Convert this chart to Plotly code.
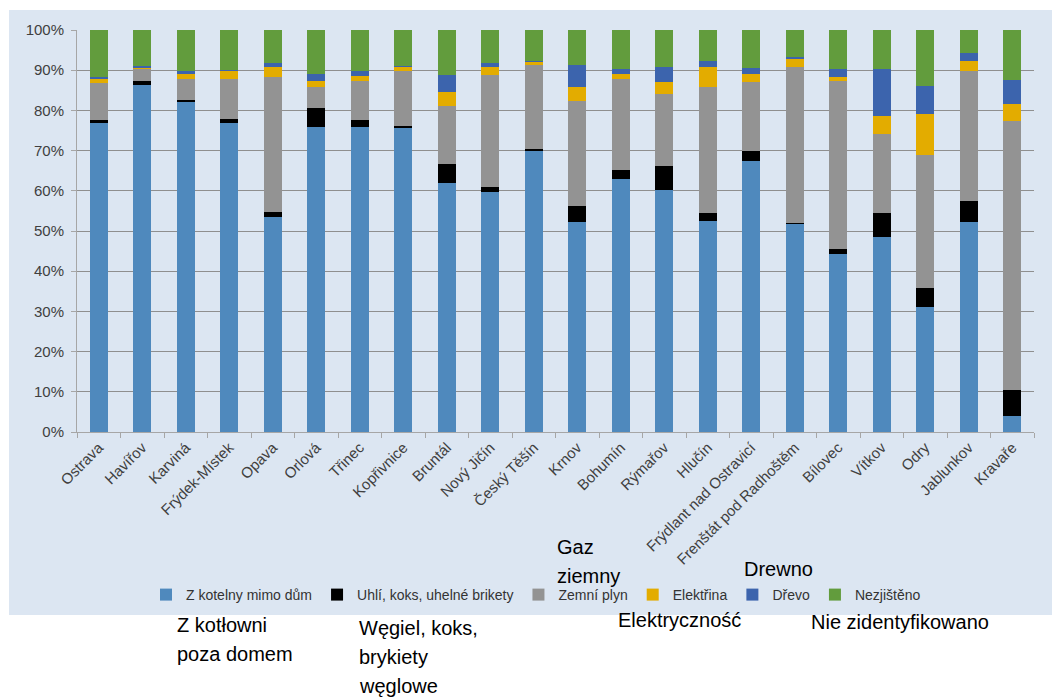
import plotly.graph_objects as go

categories = ["Ostrava", "Havířov", "Karviná", "Frýdek-Místek", "Opava", "Orlová", "Třinec",
              "Kopřivnice", "Bruntál", "Nový Jičín", "Český Těšín", "Krnov", "Bohumín", "Rýmařov",
              "Hlučín", "Frýdlant nad Ostravicí", "Frenštát pod Radhoštěm", "Bílovec", "Vítkov",
              "Odry", "Jablunkov", "Kravaře"]

z_kotelny = [76.9, 86.4, 82.0, 76.9, 53.5, 75.9, 75.9, 75.8, 62.0, 59.8, 70.1, 52.3, 63.0, 60.2,
             52.5, 67.5, 51.8, 44.4, 48.5, 31.0, 52.3, 4.1]
uhli = [0.7, 0.8, 0.6, 0.9, 1.2, 4.7, 1.7, 0.2, 4.7, 1.1, 0.4, 3.9, 2.1, 5.9,
        2.1, 2.3, 0.3, 1.0, 6.1, 4.8, 5.2, 6.4]
zemni_plyn = [9.3, 3.1, 5.1, 9.9, 33.7, 5.2, 9.8, 13.8, 14.5, 27.9, 20.9, 26.2, 22.6, 18.0,
              31.2, 17.3, 38.7, 42.0, 19.5, 33.0, 32.3, 66.9]
elektrina = [0.8, 0.3, 1.3, 2.1, 2.4, 1.4, 1.1, 1.1, 3.4, 2.0, 0.8, 3.4, 1.3, 3.0,
             5.0, 1.9, 2.1, 1.0, 4.4, 10.2, 2.6, 4.3]
drevo = [0.5, 0.5, 0.8, 0.2, 1.1, 1.8, 1.3, 0.2, 4.2, 0.9, 0.2, 5.6, 1.3, 3.7,
         1.6, 1.5, 0.3, 1.9, 11.8, 7.1, 1.9, 5.8]
nezjisteno = [11.8, 8.9, 10.2, 10.0, 8.1, 11.0, 10.2, 8.9, 11.2, 8.3, 7.6, 8.6, 9.7, 9.2,
              7.6, 9.5, 6.8, 9.7, 9.7, 13.9, 5.7, 12.5]

series_names = ["Z kotelny mimo dům", "Uhlí, koks, uhelné brikety", "Zemní plyn",
                "Elektřina", "Dřevo", "Nezjištěno"]
series_values = [z_kotelny, uhli, zemni_plyn, elektrina, drevo, nezjisteno]
series_colors = ["#4F89BD", "#000000", "#939393", "#E3AC00", "#3C64AD", "#629C3D"]

y_ticks = [0, 10, 20, 30, 40, 50, 60, 70, 80, 90, 100]
y_tick_labels = [f"{v}%" for v in y_ticks]

fig = go.Figure()
for name, vals, col in zip(series_names, series_values, series_colors):
    fig.add_trace(go.Bar(x=categories, y=vals, name=name, marker=dict(color=col, line=dict(width=0))))

W, H = 1052, 697
L, R, T, B = 77, 18, 30, 265
pw = W - L - R
ph = H - T - B


def px_x(p):
    return (p - L) / pw


def px_y(p):
    return (H - B - p) / ph


fig.add_shape(type="rect", xref="paper", yref="paper",
              x0=px_x(9), x1=px_x(1060), y0=px_y(615), y1=px_y(10),
              fillcolor="#DCE6F2", line=dict(width=0), layer="below")

notes = [
    ("Gaz", 555, 547), ("ziemny", 555, 576),
    ("Drewno", 742, 569),
    ("Z kotłowni", 175, 625), ("poza domem", 175, 654),
    ("Węgiel, koks,", 357, 628), ("brykiety", 357, 657), ("węglowe", 357, 686),
    ("Elektryczność", 616, 620),
    ("Nie zidentyfikowano", 809, 622),
]
for txt, x, y in notes:
    fig.add_annotation(text=txt, xref="paper", yref="paper", x=px_x(x), y=px_y(y),
                       xanchor="left", yanchor="middle", showarrow=False,
                       font=dict(family="Liberation Sans, Arial, sans-serif", size=20, color="#000000"))

fig.update_layout(
    width=W, height=H,
    margin=dict(l=L, r=R, t=T, b=B, pad=0),
    barmode="stack", bargap=0.59,
    paper_bgcolor="#FFFFFF", plot_bgcolor="rgba(0,0,0,0)",
    font=dict(family="Liberation Sans, Arial, sans-serif", size=14, color="#404040"),
    legend=dict(orientation="h", x=px_x(536), xanchor="center", y=px_y(595), yanchor="middle",
                font=dict(size=14, color="#333333"), itemwidth=30, traceorder="normal",
                bgcolor="rgba(0,0,0,0)"),
    xaxis=dict(tickangle=-45, showgrid=False, showline=True, linecolor="#A6A6A6", linewidth=1,
               ticks="outside", tickson="boundaries", ticklen=5, tickcolor="#A6A6A6",
               tickfont=dict(size=15, color="#404040")),
    yaxis=dict(range=[0, 100], tickvals=y_ticks, ticktext=y_tick_labels, showgrid=True,
               gridcolor="#8F8F8F", gridwidth=1, showline=True, linecolor="#A6A6A6",
               ticks="outside", ticklen=5, tickcolor="#A6A6A6", zeroline=False,
               ticklabelstandoff=4,
               tickfont=dict(size=15, color="#404040")),
)

fig.write_html("out.html")
